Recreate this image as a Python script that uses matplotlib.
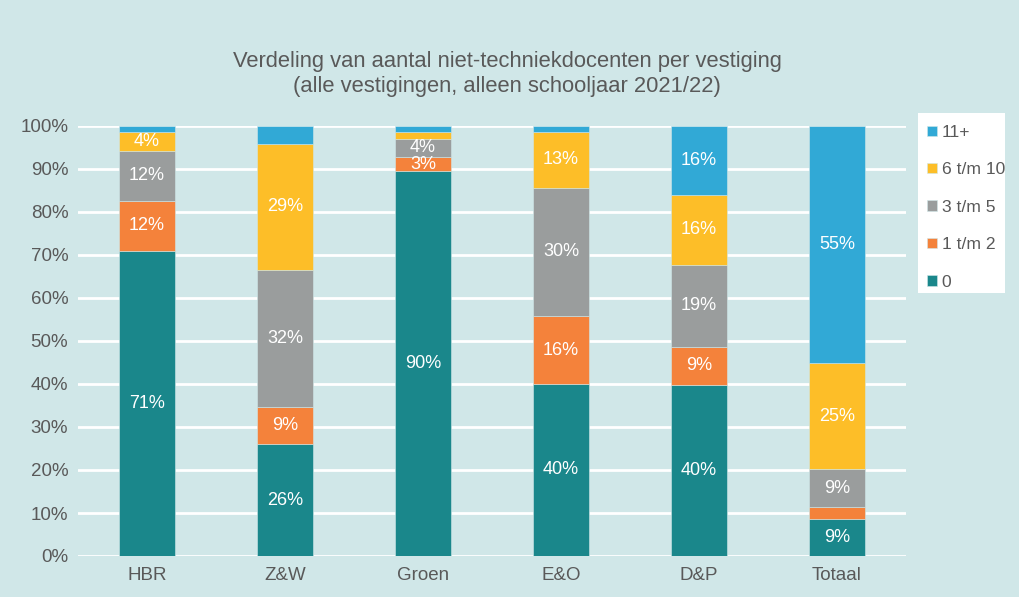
import numpy as np
import matplotlib.pyplot as plt
from matplotlib.patches import Rectangle

plt.rcParams['font.family'] = ['Liberation Sans', 'DejaVu Sans']

# data (percentages per vestiging)
categories = ['HBR', 'Z&W', 'Groen', 'E&O', 'D&P', 'Totaal']
series_names = ['0', '1 t/m 2', '3 t/m 5', '6 t/m 10', '11+']
v0 = [70.9, 26.0, 89.5, 40.0, 39.8, 8.6]
v1_2 = [11.7, 8.7, 3.3, 15.8, 8.8, 2.8]
v3_5 = [11.6, 31.9, 4.2, 29.8, 19.1, 8.8]
v6_10 = [4.4, 29.2, 1.6, 13.0, 16.3, 24.7]
v11 = [1.4, 4.2, 1.4, 1.4, 16.0, 55.1]
# labels as printed on the bars ('' = no label)
lab0 = ['71%', '26%', '90%', '40%', '40%', '9%']
lab1_2 = ['12%', '9%', '3%', '16%', '9%', '']
lab3_5 = ['12%', '32%', '4%', '30%', '19%', '9%']
lab6_10 = ['4%', '29%', '', '13%', '16%', '25%']
lab11 = ['', '', '', '', '16%', '55%']

colors = ['#1A878B', '#F4823B', '#9A9D9D', '#FDBE28', '#31A9D6']
bg = '#D0E7E8'
txt = '#595959'

fig = plt.figure(figsize=(10.19, 5.97), dpi=100, facecolor=bg)
ax = fig.add_axes([78 / 1019, 1 - 556 / 597, 828 / 1019, 430 / 597])
ax.set_facecolor(bg)

x = np.arange(len(categories))
bottom = np.zeros(len(categories))
all_vals = [v0, v1_2, v3_5, v6_10, v11]
all_labs = [lab0, lab1_2, lab3_5, lab6_10, lab11]
for vals, labs, c, name in zip(all_vals, all_labs, colors, series_names):
    vals = np.array(vals)
    ax.bar(x, vals, 0.4, bottom=bottom, color=c, label=name, zorder=3,
           edgecolor=bg, linewidth=0.4)
    for xi, b, v, l in zip(x, bottom, vals, labs):
        if l:
            ax.text(xi, b + v / 2, l, ha='center', va='center', color='white',
                    fontsize=13, zorder=4)
    bottom += vals

ax.set_xlim(-0.5, len(categories) - 0.5)
ax.set_ylim(0, 100)
ax.set_yticks(range(0, 101, 10))
ax.set_yticklabels([f'{t}%' for t in range(0, 101, 10)])
ax.set_xticks(x)
ax.set_xticklabels(categories)
ax.grid(axis='y', color='white', linewidth=2, zorder=0)
ax.set_axisbelow(True)
for s in ax.spines.values():
    s.set_visible(False)
ax.tick_params(length=0, colors=txt, labelsize=13.5)
ax.tick_params(axis='y', pad=7)
ax.tick_params(axis='x', pad=8)

fig.text(507 / 1019, 1 - 74 / 597,
         'Verdeling van aantal niet-techniekdocenten per vestiging\n(alle vestigingen, alleen schooljaar 2021/22)',
         ha='center', va='center', fontsize=15.8, color=txt, linespacing=1.3)

# legend box
fig.patches.append(Rectangle((918 / 1019, 1 - 293 / 597), 87 / 1019, 180 / 597,
                             transform=fig.transFigure, facecolor='white',
                             edgecolor='none', zorder=1))
h, l = ax.get_legend_handles_labels()
leg = fig.legend(h[::-1], l[::-1], loc='upper left',
                 bbox_to_anchor=(927 / 1019, 1 - 125 / 597),
                 frameon=False, fontsize=12.6, labelcolor=txt,
                 handlelength=0.55, handleheight=0.55,
                 handletextpad=0.3, labelspacing=1.28, borderpad=0,
                 borderaxespad=0)

fig.savefig('out.png', dpi=100, facecolor=bg)
